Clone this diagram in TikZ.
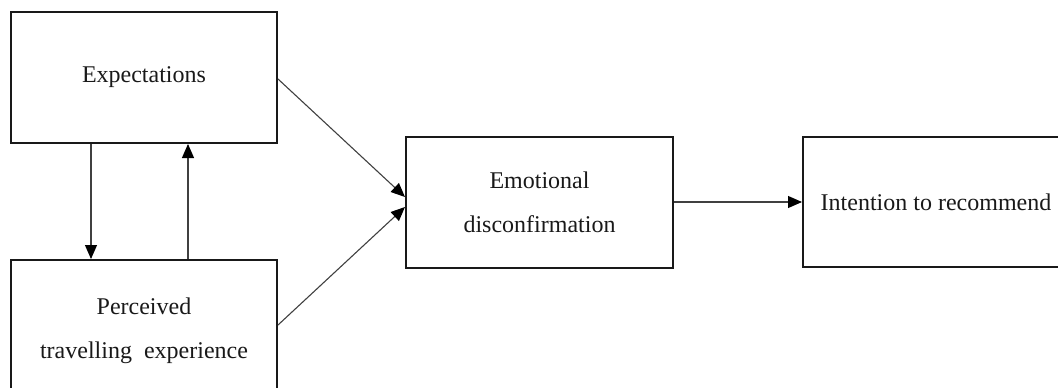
\documentclass[tikz,border=0pt]{standalone}
\usepackage{fontspec}
\setmainfont{Liberation Serif}
\usetikzlibrary{arrows.meta}
\begin{document}
\begin{tikzpicture}[x=1pt,y=-1pt,
  box/.style={draw=black!90,line width=2pt,rectangle,align=center,inner sep=0pt,
    font=\fontsize{24}{44}\selectfont,text=black!90},
  arr/.style={draw=black!75,line width=1.1pt,-{Triangle[length=14pt,width=12pt,fill=black,color=black]}}]
\useasboundingbox (0,0) rectangle (1058,388);
\node[box,minimum width=266pt,minimum height=131pt] (e) at (144,77.5) {Expectations};
\node[box,minimum width=266pt,minimum height=142pt] (p) at (144,331) {Perceived\\travelling\ \ experience};
\node[box,minimum width=267pt,minimum height=131pt] (m) at (539.5,202) {Emotional\\disconfirmation};
\node[box,minimum width=266pt,minimum height=130pt] (r) at (936,202) {Intention to recommend};
\draw[arr] ([xshift=81pt]e.south west) -- ([xshift=81pt]p.north west);
\draw[arr] ([xshift=178pt]p.north west) -- ([xshift=178pt]e.south west);
\draw[arr] ([yshift=-1.5pt]e.east) -- ([yshift=5pt]m.west);
\draw[arr] ([yshift=6pt]p.east) -- ([yshift=-5pt]m.west);
\draw[arr] (m.east) -- (r.west);
\end{tikzpicture}
\end{document}
